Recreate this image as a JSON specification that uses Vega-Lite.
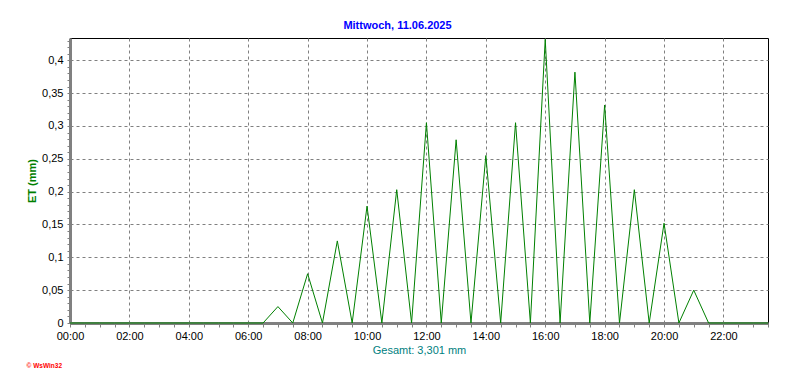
{
  "$schema": "https://vega.github.io/schema/vega-lite/v6.json",
  "width": 698,
  "height": 285,
  "autosize": "none",
  "padding": {"left": 70, "top": 38, "right": 24, "bottom": 64},
  "background": "white",
  "title": {"text": "© WsWin32", "orient": "bottom", "anchor": "start", "frame": "bounds", "color": "#ff0000", "fontSize": 6.5, "fontWeight": "bold", "font": "Liberation Sans", "offset": 8},
  "config": {"view": {"stroke": "black", "strokeWidth": 1}, "font": "Liberation Sans"},
  "data": {"values": [
    {"h": 0, "et": 0}, {"h": 0.5, "et": 0}, {"h": 1, "et": 0}, {"h": 1.5, "et": 0},
    {"h": 2, "et": 0}, {"h": 2.5, "et": 0}, {"h": 3, "et": 0}, {"h": 3.5, "et": 0},
    {"h": 4, "et": 0}, {"h": 4.5, "et": 0}, {"h": 5, "et": 0}, {"h": 5.5, "et": 0},
    {"h": 6, "et": 0}, {"h": 6.5, "et": 0}, {"h": 7, "et": 0.025}, {"h": 7.5, "et": 0},
    {"h": 8, "et": 0.075}, {"h": 8.5, "et": 0}, {"h": 9, "et": 0.125}, {"h": 9.5, "et": 0},
    {"h": 10, "et": 0.178}, {"h": 10.5, "et": 0}, {"h": 11, "et": 0.203}, {"h": 11.5, "et": 0},
    {"h": 12, "et": 0.305}, {"h": 12.5, "et": 0}, {"h": 13, "et": 0.279}, {"h": 13.5, "et": 0},
    {"h": 14, "et": 0.255}, {"h": 14.5, "et": 0}, {"h": 15, "et": 0.305}, {"h": 15.5, "et": 0},
    {"h": 16, "et": 0.432}, {"h": 16.5, "et": 0}, {"h": 17, "et": 0.382}, {"h": 17.5, "et": 0},
    {"h": 18, "et": 0.332}, {"h": 18.5, "et": 0}, {"h": 19, "et": 0.203}, {"h": 19.5, "et": 0},
    {"h": 20, "et": 0.152}, {"h": 20.5, "et": 0}, {"h": 21, "et": 0.05}, {"h": 21.5, "et": 0},
    {"h": 22, "et": 0}, {"h": 22.5, "et": 0}, {"h": 23, "et": 0}, {"h": 23.5, "et": 0}
  ]},
  "layer": [
    {
      "mark": {"type": "line", "color": "#008000", "strokeWidth": 1, "interpolate": "linear"},
      "encoding": {
        "x": {
          "field": "h", "type": "quantitative",
          "scale": {"domain": [0, 23.5], "nice": false, "zero": false},
          "axis": {
            "values": [0,0.5,1,1.5,2,2.5,3,3.5,4,4.5,5,5.5,6,6.5,7,7.5,8,8.5,9,9.5,10,10.5,11,11.5,12,12.5,13,13.5,14,14.5,15,15.5,16,16.5,17,17.5,18,18.5,19,19.5,20,20.5,21,21.5,22,22.5,23,23.5],
            "labelExpr": "datum.value % 2 == 0 ? (datum.value < 10 ? '0' : '') + datum.value + ':00' : ''",
            "grid": true,
            "gridDash": [3, 3],
            "gridColor": "#808080",
            "gridOpacity": {"condition": {"test": "datum.value % 2 == 0 && datum.value > 0", "value": 1}, "value": 0},
            "domainColor": "#808080",
            "domainWidth": 3,
            "tickColor": "#808080",
            "tickSize": 4,
            "labelFontSize": 11,
            "labelColor": "black",
            "labelPadding": 3,
            "labelFlush": false,
            "labelOverlap": false,
            "title": "Gesamt: 3,301 mm",
            "titleColor": "#008080",
            "titleFontSize": 11,
            "titleFontWeight": "normal",
            "titlePadding": 3
          }
        },
        "y": {
          "field": "et", "type": "quantitative",
          "scale": {"domain": [0, 0.434], "nice": false},
          "axis": {
            "values": [0,0.01,0.02,0.03,0.04,0.05,0.06,0.07,0.08,0.09,0.1,0.11,0.12,0.13,0.14,0.15,0.16,0.17,0.18,0.19,0.2,0.21,0.22,0.23,0.24,0.25,0.26,0.27,0.28,0.29,0.3,0.31,0.32,0.33,0.34,0.35,0.36,0.37,0.38,0.39,0.4,0.41,0.42,0.43],
            "labelExpr": "abs(datum.value*20 - round(datum.value*20)) < 0.001 ? replace(format(datum.value, '.2~f'), '.', ',') : ''",
            "grid": true,
            "gridDash": [3, 3],
            "gridColor": "#808080",
            "gridOpacity": {"condition": {"test": "abs(datum.value*20 - round(datum.value*20)) < 0.001 && datum.value > 0", "value": 1}, "value": 0},
            "domainColor": "#808080",
            "domainWidth": 3,
            "tickColor": "#808080",
            "tickSize": 3,
            "labelFontSize": 11,
            "labelColor": "black",
            "labelPadding": 4,
            "labelOverlap": false,
            "labelFlush": false,
            "title": "ET  (mm)",
            "titleColor": "#008000",
            "titleFontSize": 11,
            "titleFontWeight": "bold",
            "titlePadding": 4
          }
        }
      }
    },
    {
      "mark": {"type": "rule", "opacity": 0},
      "encoding": {
        "x": {
          "field": "h", "type": "quantitative",
          "axis": {
            "orient": "top",
            "domain": false,
            "ticks": false,
            "labels": false,
            "grid": false,
            "title": "Mittwoch, 11.06.2025",
            "titleColor": "#0000ff",
            "titleFontSize": 11,
            "titleFontWeight": "bold",
            "titleX": 327,
            "titlePadding": 8
          }
        }
      }
    }
  ],
  "resolve": {"axis": {"x": "independent"}}
}
